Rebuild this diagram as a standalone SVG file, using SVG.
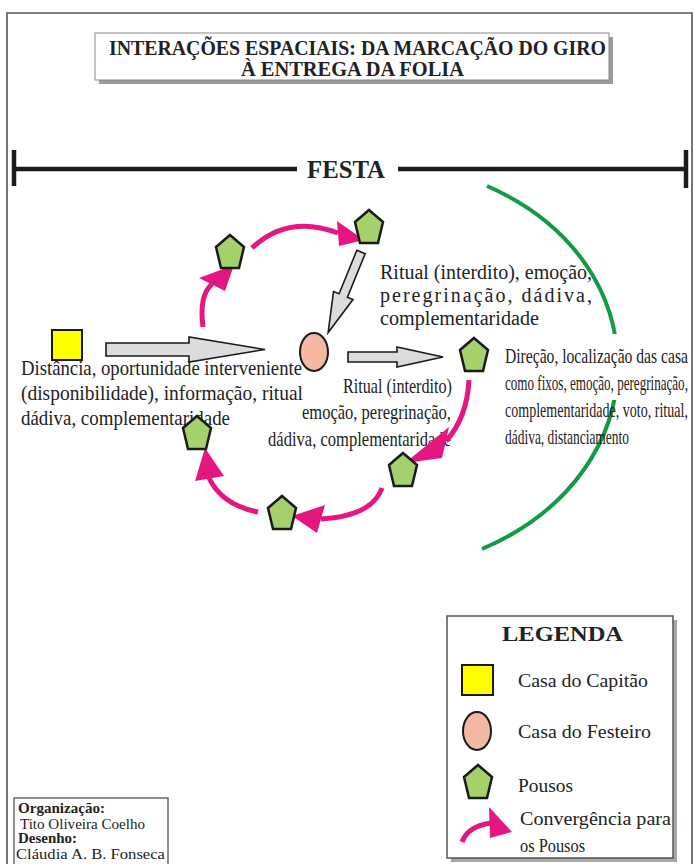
<svg xmlns="http://www.w3.org/2000/svg" xmlns:xlink="http://www.w3.org/1999/xlink" width="694" height="864" viewBox="0 0 694 864">
<defs>
<style>
text{font-family:"Liberation Serif","Times New Roman",serif;fill:#222}
.b{font-weight:bold}
.pent{fill:#a4d16c;stroke:#1a1a1a;stroke-width:2.5;stroke-linejoin:miter}
.gray{fill:#dcdcdc;stroke:#1a1a1a;stroke-width:1.6;stroke-linejoin:miter}
.mag{fill:none;stroke:#e3177f;stroke-width:5;stroke-linecap:butt}
.magh{fill:#e3177f}
.t20{font-size:20px}
.t22{font-size:22px}
.t21{font-size:21px}
.t19{font-size:19px}
.t14{font-size:14px}
</style>
<polygon id="pent" points="0,-17 14,-5 9,16 -9,16 -14,-5"/>
</defs>
<rect x="0" y="0" width="694" height="864" fill="#fff"/>
<!-- outer frame -->
<path d="M7,870 L7,13 L692,13 L692,870" fill="none" stroke="#555" stroke-width="1.6"/>

<!-- title -->
<g id="node-title">
<rect x="99" y="37" width="514" height="47" fill="#9a9a9a"/>
<rect x="95" y="33" width="514" height="47" fill="#fff" stroke="#888" stroke-width="1"/>
<text class="b" x="109" y="55" font-size="20" textLength="497" lengthAdjust="spacingAndGlyphs">INTERAÇÕES ESPACIAIS: DA MARCAÇÃO DO GIRO</text>
<text class="b" x="241" y="76" font-size="20" textLength="223" lengthAdjust="spacingAndGlyphs">À ENTREGA DA FOLIA</text>
</g>

<!-- festa bar -->
<g id="node-festa">
<line x1="12" y1="169" x2="297" y2="169" stroke="#1a1a1a" stroke-width="4.5"/>
<line x1="398" y1="169" x2="688" y2="169" stroke="#1a1a1a" stroke-width="4.5"/>
<line x1="14" y1="150" x2="14" y2="186" stroke="#1a1a1a" stroke-width="4.5"/>
<line x1="686" y1="150" x2="686" y2="188" stroke="#1a1a1a" stroke-width="4.5"/>
<text class="b" x="307" y="178" font-size="26" textLength="78" lengthAdjust="spacingAndGlyphs">FESTA</text>
</g>

<!-- green arc (partly hidden behind the text box) -->
<g id="festa-arc">
<path d="M487,186 C662,262 662,472 482,549" fill="none" stroke="#129a45" stroke-width="4"/>
<rect x="596" y="334" width="34" height="66" fill="#fff"/>
</g>

<!-- right text (condensed) -->
<g id="label-right" transform="translate(505,0) scale(0.62,1)">
<text class="t21" x="0" y="363" textLength="295" lengthAdjust="spacingAndGlyphs">Direção,  localização  das  casa</text>
<text class="t21" x="0" y="390" textLength="295" lengthAdjust="spacingAndGlyphs">como fixos, emoção, peregrinação,</text>
<text class="t21" x="0" y="417" textLength="295" lengthAdjust="spacingAndGlyphs">complementaridade,  voto,  ritual,</text>
<text class="t21" x="0" y="444" textLength="200" lengthAdjust="spacingAndGlyphs">dádiva, distanciamento</text>
</g>

<!-- left text -->
<g id="label-left">
<text class="t22" x="21" y="375" textLength="281" lengthAdjust="spacingAndGlyphs">Distância, oportunidade interveniente</text>
<text class="t22" x="21" y="400" textLength="282" lengthAdjust="spacingAndGlyphs">(disponibilidade),  informação,  ritual</text>
<text class="t22" x="21" y="425" textLength="209" lengthAdjust="spacingAndGlyphs">dádiva, complementaridade</text>
</g>

<!-- top-right text -->
<g id="label-top">
<text class="t20" x="380" y="279" textLength="212" lengthAdjust="spacingAndGlyphs">Ritual (interdito), emoção,</text>
<text class="t20" x="380" y="302" textLength="212" lengthAdjust="spacing">peregrinação, dádiva,</text>
<text class="t20" x="380" y="325" textLength="159" lengthAdjust="spacingAndGlyphs">complementaridade</text>
</g>

<!-- center text -->
<g id="label-center">
<text class="t22" x="343" y="393" textLength="109" lengthAdjust="spacingAndGlyphs">Ritual (interdito)</text>
<text class="t22" x="302" y="419" textLength="149" lengthAdjust="spacingAndGlyphs">emoção, peregrinação,</text>
<text class="t22" x="268" y="446" textLength="183" lengthAdjust="spacingAndGlyphs">dádiva, complementaridade</text>
</g>

<!-- connectors -->
<g id="connectors">
<path class="gray" d="M106,343 L189,343 L189,337 L265,349.5 L189,362 L189,356 L106,356 Z"/>
<path class="gray" transform="translate(361,252) rotate(112.2)" d="M0,-4.5 L47,-4.5 L47,-10.5 L87,0 L47,10.5 L47,4.5 L0,4.5 Z"/>
<path class="gray" d="M348,352 L397,352 L397,347 L443,357 L397,367 L397,362 L348,362 Z"/>

<path class="mag" d="M203,327 C200,305 203,292 212,284"/>
<polygon class="magh" points="199,278 234,265 225,291"/>
<path class="mag" d="M252,248 Q288,214 338,233"/>
<polygon class="magh" points="337,221 364,240 339,246"/>
<path class="mag" d="M469,380 Q467,418 446,441"/>
<polygon class="magh" points="449,427 405,463 442,458"/>
<path class="mag" d="M382,488 Q372,516 321,519"/>
<polygon class="magh" points="325,505 292,516 317,533"/>
<path class="mag" d="M258,512 Q222,505 209,478"/>
<polygon class="magh" points="224,476 205,448 195,481"/>
</g>

<!-- nodes -->
<g id="node-capitao"><rect x="52" y="330" width="30" height="30" fill="#ffff00" stroke="#1a1a1a" stroke-width="2"/></g>
<g id="node-festeiro"><ellipse cx="314" cy="352" rx="14" ry="19" fill="#f5b9a3" stroke="#1a1a1a" stroke-width="2"/></g>
<g id="node-pouso1"><use xlink:href="#pent" class="pent" x="230" y="252"/></g>
<g id="node-pouso2"><use xlink:href="#pent" class="pent" x="369" y="227"/></g>
<g id="node-pouso3"><use xlink:href="#pent" class="pent" x="474" y="355"/></g>
<g id="node-pouso4"><use xlink:href="#pent" class="pent" x="403" y="470"/></g>
<g id="node-pouso5"><use xlink:href="#pent" class="pent" x="282" y="513"/></g>
<g id="node-pouso6"><use xlink:href="#pent" class="pent" x="197" y="433"/></g>

<!-- legend -->
<g id="legend">
<rect x="451" y="620" width="226" height="242" fill="#a8a8a8"/>
<rect x="447" y="616" width="226" height="242" fill="#fff" stroke="#555" stroke-width="1.5"/>
<text class="b" x="502" y="641" font-size="22" textLength="121" lengthAdjust="spacingAndGlyphs">LEGENDA</text>
<rect x="462" y="665" width="31" height="30" fill="#ffff00" stroke="#1a1a1a" stroke-width="2"/>
<text class="t19" x="518" y="687" textLength="130" lengthAdjust="spacingAndGlyphs">Casa do Capitão</text>
<ellipse cx="477" cy="731" rx="14" ry="19" fill="#f5b9a3" stroke="#1a1a1a" stroke-width="2"/>
<text class="t19" x="518" y="738" textLength="133" lengthAdjust="spacingAndGlyphs">Casa do Festeiro</text>
<use xlink:href="#pent" class="pent" x="478" y="782"/>
<text class="t19" x="518" y="792" textLength="55" lengthAdjust="spacingAndGlyphs">Pousos</text>
<path class="mag" d="M462,842 Q468,826 491,823"/>
<polygon class="magh" points="489,807 512,832 490,838"/>
<text class="t19" x="520" y="825" textLength="151" lengthAdjust="spacingAndGlyphs">Convergência para</text>
<text class="t19" x="520" y="852" textLength="65" lengthAdjust="spacingAndGlyphs">os Pousos</text>
</g>

<!-- credits -->
<g id="credits">
<rect x="14" y="798" width="154" height="72" fill="#fff" stroke="#444" stroke-width="1.2"/>
<text class="t14 b" x="18" y="813" textLength="87" lengthAdjust="spacingAndGlyphs">Organização:</text>
<text class="t14" x="20" y="829" textLength="125" lengthAdjust="spacingAndGlyphs">Tito Oliveira Coelho</text>
<text class="t14 b" x="18" y="843" textLength="59" lengthAdjust="spacingAndGlyphs">Desenho:</text>
<text class="t14" x="16" y="859" textLength="149" lengthAdjust="spacingAndGlyphs">Cláudia A. B. Fonseca</text>
</g>
</svg>
